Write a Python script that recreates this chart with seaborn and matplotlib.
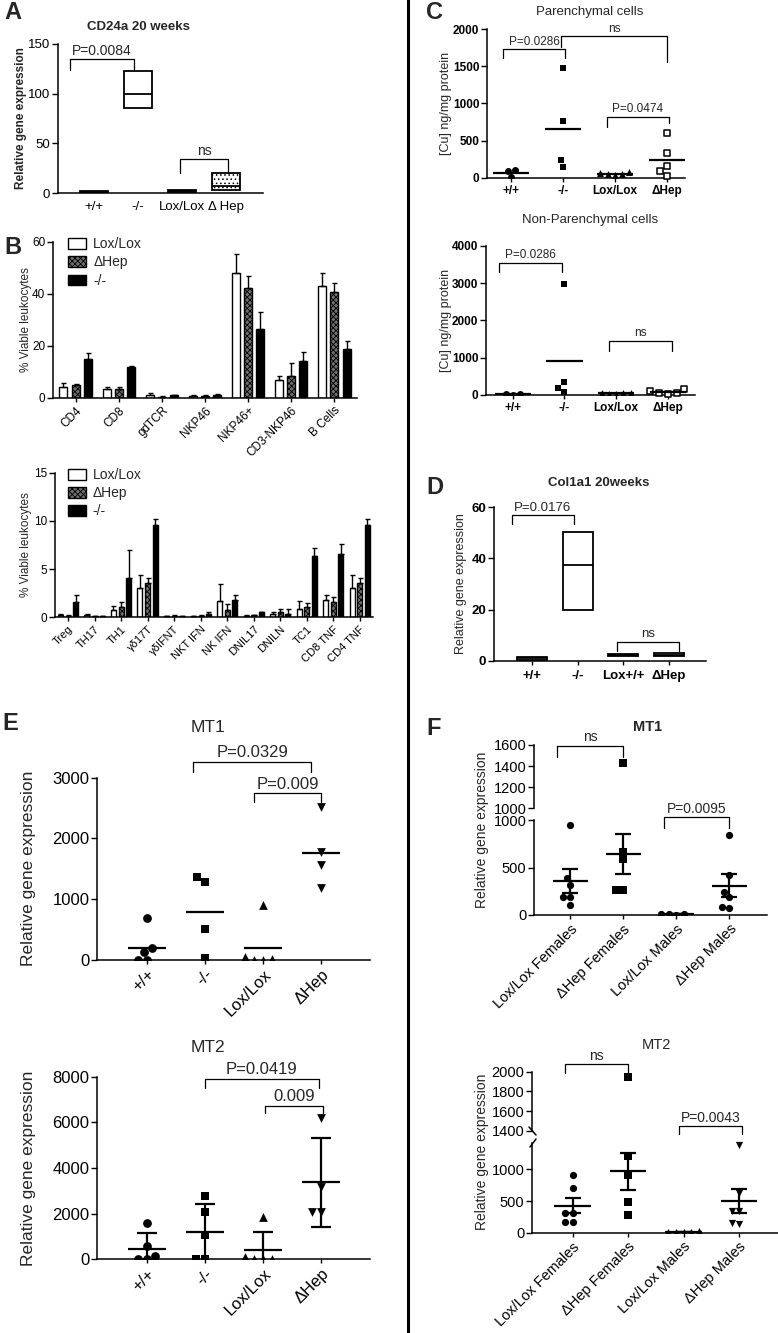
#!/usr/bin/env python3
"""Multi-panel figure: CD24a, leukocyte subsets, hepatic copper, Col1a1 and MT1/MT2 expression."""

import numpy as np
import pandas as pd
import matplotlib.pyplot as plt
import seaborn as sns
from matplotlib.lines import Line2D
from matplotlib.patches import Patch

OUT_PATH = "out.png"
W, H = 778, 1333

# ---------------- data ----------------
# A: CD24a 20 weeks, floating bars (min / median / max)
a_labels = ["+/+", "-/-", "Lox/Lox", "Δ Hep"]
a_low = [0.5, 86, 1.0, 3.0]
a_med = [1.5, 100, 2.0, 7.0]
a_high = [2.5, 123, 3.0, 20.0]

# B: % viable leukocytes (mean, upper error)
b_geno = ["Lox/Lox", "ΔHep", "-/-"]
b1_cells = ["CD4", "CD8", "gdTCR", "NKP46", "NKP46+", "CD3-NKP46", "B Cells"]
b1_lox = [4.0, 3.4, 1.0, 0.8, 48.1, 6.8, 43.2]
b1_lox_err = [1.5, 0.8, 0.9, 0.1, 7.1, 1.6, 4.9]
b1_hep = [4.9, 3.4, 0.4, 0.8, 42.3, 8.4, 40.6]
b1_hep_err = [0.3, 0.8, 0.2, 0.1, 4.7, 5.1, 3.7]
b1_ko = [14.8, 11.7, 0.9, 1.2, 26.5, 14.3, 18.8]
b1_ko_err = [2.4, 0.7, 0.3, 0.2, 6.4, 3.5, 3.1]

b2_cells = ["Treg", "TH17", "TH1", "γδ17T", "γδIFNT", "NKT IFN", "NK IFN",
            "DNIL17", "DNILN", "TC1", "CD8 TNF", "CD4 TNF"]
b2_lox = [0.2, 0.2, 0.75, 3.0, 0.1, 0.1, 1.7, 0.15, 0.3, 0.9, 1.8, 3.0]
b2_lox_err = [0.1, 0.15, 0.45, 1.4, 0.05, 0.05, 1.8, 0.05, 0.3, 0.8, 0.55, 1.4]
b2_hep = [0.15, 0.1, 1.1, 3.6, 0.15, 0.15, 0.8, 0.2, 0.5, 1.1, 1.6, 3.6]
b2_hep_err = [0.1, 0.05, 0.45, 0.5, 0.05, 0.05, 0.6, 0.05, 0.4, 0.4, 0.5, 0.5]
b2_ko = [1.6, 0.1, 4.1, 9.6, 0.1, 0.35, 1.8, 0.5, 0.35, 6.3, 6.6, 9.6]
b2_ko_err = [0.75, 0.05, 2.9, 0.6, 0.05, 0.25, 0.5, 0.1, 0.5, 0.9, 1.0, 0.6]

# C: [Cu] ng/mg protein
c_labels = ["+/+", "-/-", "Lox/Lox", "ΔHep"]
cp_wt = [100, 5, 90]
cp_ko = [1479, 766, 238, 148]
cp_lox = [70, 50, 40, 45, 60]
cp_hep = [605, 328, 161, 94, 27]
cn_wt = [40, 10, 35]
cn_ko = [2976, 357, 179, 89]
cn_lox = [60, 50, 30, 40, 60]
cn_hep = [152, 50, 40, 50, 100]

# D: Col1a1 20 weeks, floating bars
d_labels = ["+/+", "-/-", "Lox+/+", "ΔHep"]
d_low = [0.3, 19.9, 1.8, 1.8]
d_med = [1.0, 37.6, 2.1, 2.4]
d_high = [1.5, 50.4, 2.5, 3.1]

# E: MT1 / MT2 relative expression
e_labels = ["+/+", "-/-", "Lox/Lox", "ΔHep"]
e1_wt = [686, 137, 200, 0, 0]
e1_ko = [1362, 1290, 505, 28]
e1_lox = [906, 12, 0, 0, 55]
e1_hep = [2526, 1785, 1565, 1181]
e2_wt = [1579, 597, 145, 0, 0]
e2_ko = [2776, 2061, 1066, 0, 0]
e2_lox = [1842, 0, 0, 0, 90]
e2_hep = [6184, 3158, 2061, 2061]

# F: MT1 / MT2 by sex
f_labels = ["Lox/Lox Females", "ΔHep Females", "Lox/Lox Males", "ΔHep Males"]
f1_lf = [947, 386, 316, 193, 193, 110]
f1_hf = [1431, 666, 586, 263, 263]
f1_lm = [10, 5, 10, 15]
f1_hm = [842, 421, 245, 193, 87, 73]
f2_lf = [910, 700, 306, 306, 174, 174]
f2_hf = [1950, 1210, 910, 489, 279]
f2_lm = [20, 10, 5, 10, 15]
f2_hm = [1383, 620, 350, 340, 150, 140]

B_COLORS = {"Lox/Lox": "white", "ΔHep": "#6f6f6f", "-/-": "black"}
B_HATCH = {"Lox/Lox": "", "ΔHep": "xxxxxx", "-/-": ""}


def place(fig, left, top, right, bottom):
    """Axes from pixel box (left, top, right, bottom)."""
    return fig.add_axes([left / W, 1 - bottom / H, (right - left) / W, (bottom - top) / H])


def ftext(fig, x, y, s, **kw):
    fig.text(x / W, 1 - y / H, s, **kw)


def finish(ax, xlim, ylim, yticks, fs, xlabels=None, rot=0, xfs=None, bold=False):
    sns.despine(ax=ax)
    ax.set_xlim(*xlim)
    ax.set_ylim(*ylim)
    ax.set_yticks(yticks)
    ax.set_xlabel("")
    ax.set_ylabel("")
    ax.tick_params(axis="y", labelsize=fs, length=4, width=1, pad=1.5)
    ax.tick_params(axis="x", labelsize=xfs or fs, length=3, width=1, pad=2)
    if xlabels is not None:
        if rot:
            ax.set_xticks(range(len(xlabels)), xlabels, rotation=rot, ha="right",
                          rotation_mode="anchor")
        else:
            ax.set_xticks(range(len(xlabels)), xlabels)
    if bold:
        for t in ax.get_xticklabels() + ax.get_yticklabels():
            t.set_fontweight("bold")


def bracket(ax, x1, x2, y, l1, l2, text, fs):
    ax.plot([x1, x1, x2, x2], [l1, y, y, l2], color="black", lw=0.9, clip_on=False)
    ax.annotate(text, xy=((x1 + x2) / 2, y), xytext=(0, 1), textcoords="offset points",
                ha="center", va="bottom", fontsize=fs, annotation_clip=False)


def float_bars(ax, labels, low, med, high, width, hatched=()):
    df = pd.DataFrame({"group": labels, "span": np.subtract(high, low)})
    sns.barplot(data=df, x="group", y="span", bottom=low, color="white", saturation=1,
                edgecolor="black", linewidth=1.3, width=width, errorbar=None, ax=ax)
    pos = np.arange(len(labels))
    ax.hlines(med, pos - width / 2, pos + width / 2, color="black", lw=1.3)
    for i in hatched:
        ax.patches[i].set_hatch("....")


def leuko_bars(ax, cells, series, errs):
    df = pd.DataFrame({"cell": np.tile(cells, 3),
                       "geno": np.repeat(b_geno, len(cells)),
                       "pct": np.concatenate(series)})
    sns.barplot(data=df, x="cell", y="pct", hue="geno", hue_order=b_geno, palette=B_COLORS,
                saturation=1, edgecolor="black", linewidth=1, width=0.86, gap=0.35,
                errorbar=None, legend=False, ax=ax)
    for cont, err, g in zip(ax.containers, errs, b_geno):
        for bar, e in zip(cont, err):
            bar.set_hatch(B_HATCH[g])
            ax.errorbar(bar.get_x() + bar.get_width() / 2, bar.get_height(), yerr=[[0], [e]],
                        color="black", lw=1, capsize=1.8, capthick=1, zorder=1)
    handles = [Patch(facecolor=B_COLORS[g], edgecolor="black", hatch=B_HATCH[g], label=g)
               for g in b_geno]
    return handles


def dots(ax, labels, series, markers, size, hollow=()):
    for i, (lab, vals, m) in enumerate(zip(labels, series, markers)):
        if len(vals) == 0:
            continue
        df = pd.DataFrame({"group": [lab] * len(vals), "value": vals})
        sns.swarmplot(data=df, x="group", y="value", order=labels, marker=m, color="black",
                      size=size, linewidth=0, ax=ax)
        coll = ax.collections[-1]
        coll.set_clip_on(False)
        coll.set_zorder(3)
        if i in hollow:
            coll.set_facecolor("white")
            coll.set_edgecolor("black")
            coll.set_linewidth(1.1)


def means(ax, series, half, err=None, capsize=6):
    for i, vals in enumerate(series):
        v = np.asarray(vals, float)
        m = v.mean()
        ax.hlines(m, i - half, i + half, color="black", lw=1.6, zorder=4)
        if err:
            e = v.std(ddof=1)
            if err == "sem":
                e = e / np.sqrt(len(v))
            ax.errorbar(i, m, yerr=e, color="black", lw=1.6, capsize=capsize,
                        capthick=1.6, zorder=4)


def main() -> None:
    sns.set_theme(style="ticks", rc={"axes.edgecolor": "black", "xtick.color": "black",
                                     "ytick.color": "black", "axes.linewidth": 1.1,
                                     "hatch.linewidth": 0.6})
    plt.rcParams["font.family"] = ["Liberation Sans", "DejaVu Sans"]

    fig = plt.figure(figsize=(W / 100, H / 100), dpi=100)
    fig.patch.set_facecolor("white")

    # divider
    fig.add_artist(Line2D([408 / W, 408 / W], [0, 1], color="black", lw=2.2))

    # panel letters
    for x, y, s in [(4, 1, "A"), (4, 236, "B"), (426, 1, "C"), (426, 476, "D"),
                    (2, 712, "E"), (426, 717, "F")]:
        ftext(fig, x, y, s, fontsize=17, fontweight="bold", va="top", ha="left")

    # ---- A ----
    ax = place(fig, 58, 44, 263, 193)
    float_bars(ax, a_labels, a_low, a_med, a_high, 0.64, hatched=[3])
    finish(ax, (-0.82, 3.84), (0, 150), [0, 50, 100, 150], 9.5, a_labels)
    ax.tick_params(axis="x", length=0, pad=6)
    bracket(ax, -0.55, 0.9, 135, 124, 124, "P=0.0084", 10)
    bracket(ax, 1.95, 3.05, 34, 20.4, 20.4, "ns", 10)
    ftext(fig, 138, 27, "CD24a 20 weeks", fontsize=9.5, fontweight="bold", ha="center", va="center")
    ftext(fig, 21, 118, "Relative gene expression", fontsize=8.5, fontweight="bold",
          rotation=90, ha="center", va="center")

    # ---- B top ----
    ax = place(fig, 53, 242, 357, 397.7)
    handles = leuko_bars(ax, b1_cells, [b1_lox, b1_hep, b1_ko], [b1_lox_err, b1_hep_err, b1_ko_err])
    finish(ax, (-0.53, 6.53), (0, 60), [0, 20, 40, 60], 8.5, b1_cells, rot=45, xfs=8.5)
    ax.legend(handles=handles, loc="upper left", bbox_to_anchor=(0.05, 1.03), frameon=False,
              fontsize=10, handlelength=1.3, handleheight=0.8, handletextpad=0.5,
              labelspacing=0.3, borderaxespad=0, borderpad=0)
    ftext(fig, 26, 320, "% Viable leukocytes", fontsize=8.5, rotation=90, ha="center", va="center")

    # ---- B bottom ----
    ax = place(fig, 55, 472.5, 373, 617.3)
    handles = leuko_bars(ax, b2_cells, [b2_lox, b2_hep, b2_ko], [b2_lox_err, b2_hep_err, b2_ko_err])
    finish(ax, (-0.49, 11.5), (0, 15), [0, 5, 10, 15], 8.5, b2_cells, rot=45, xfs=8)
    ax.legend(handles=handles, loc="upper left", bbox_to_anchor=(0.04, 1.03), frameon=False,
              fontsize=10, handlelength=1.3, handleheight=0.8, handletextpad=0.5,
              labelspacing=0.3, borderaxespad=0, borderpad=0)
    ftext(fig, 26, 545, "% Viable leukocytes", fontsize=8.5, rotation=90, ha="center", va="center")

    # ---- C top ----
    c_markers = ["o", "s", "^", "s"]
    ax = place(fig, 487, 29, 685, 177.7)
    series = [cp_wt, cp_ko, cp_lox, cp_hep]
    dots(ax, c_labels, series, c_markers, 5, hollow=[3])
    means(ax, series, 0.35)
    finish(ax, (-0.46, 3.35), (0, 2000), [0, 500, 1000, 1500, 2000], 8.5, c_labels, bold=True)
    bracket(ax, -0.15, 1.04, 1726, 1605, 1605, "P=0.0286", 8.5)
    bracket(ax, 0.96, 3.01, 1904, 1761, 1559, "ns", 8.5)
    bracket(ax, 1.85, 3.04, 820, 685, 735, "P=0.0474", 8.5)
    ftext(fig, 590, 12, "Parenchymal cells", fontsize=9.5, ha="center", va="center")
    ftext(fig, 446, 103, "[Cu] ng/mg protein", fontsize=9, rotation=90, ha="center", va="center")

    # ---- C bottom ----
    ax = place(fig, 486, 245.7, 695, 395)
    series = [cn_wt, cn_ko, cn_lox, cn_hep]
    dots(ax, c_labels, series, c_markers, 5, hollow=[3])
    means(ax, series, 0.35)
    finish(ax, (-0.52, 3.53), (0, 4000), [0, 1000, 2000, 3000, 4000], 8.5, c_labels, bold=True)
    bracket(ax, -0.26, 0.96, 3546, 3288, 3288, "P=0.0286", 8.5)
    bracket(ax, 1.86, 3.08, 1455, 1187, 1187, "ns", 8.5)
    ftext(fig, 590, 220, "Non-Parenchymal cells", fontsize=9.5, ha="center", va="center")
    ftext(fig, 446, 320, "[Cu] ng/mg protein", fontsize=9, rotation=90, ha="center", va="center")

    # ---- D ----
    ax = place(fig, 494, 507.3, 706, 660.7)
    float_bars(ax, d_labels, d_low, d_med, d_high, 0.66)
    finish(ax, (-0.84, 3.82), (0, 60), [0, 20, 40, 60], 9.5, d_labels, bold=True)
    ax.tick_params(axis="x", length=3, pad=4)
    bracket(ax, -0.45, 0.91, 57.0, 53.5, 53.5, "P=0.0176", 9.5)
    bracket(ax, 1.87, 3.23, 7.4, 3.9, 3.9, "ns", 9.5)
    ftext(fig, 599, 483, "Col1a1 20weeks", fontsize=9.5, fontweight="bold", ha="center", va="center")
    ftext(fig, 461, 584, "Relative gene expression", fontsize=9, rotation=90,
          ha="center", va="center")

    # ---- E MT1 ----
    e_markers = ["o", "s", "^", "v"]
    ax = place(fig, 97, 777.7, 370, 960)
    series = [e1_wt, e1_ko, e1_lox, e1_hep]
    dots(ax, e_labels, series, e_markers, 6.3)
    means(ax, series, 0.33)
    finish(ax, (-0.86, 3.84), (0, 3000), [0, 1000, 2000, 3000], 12, e_labels, rot=45)
    bracket(ax, 0.8, 2.82, 3266, 3101, 3101, "P=0.0329", 12)
    bracket(ax, 1.85, 3.0, 2750, 2607, 2607, "P=0.009", 12)
    ftext(fig, 208, 727, "MT1", fontsize=12.5, ha="center", va="center")
    ftext(fig, 29, 868, "Relative gene expression", fontsize=12.5, rotation=90,
          ha="center", va="center")

    # ---- E MT2 ----
    ax = place(fig, 97, 1076.7, 370, 1259.3)
    series = [e2_wt, e2_ko, e2_lox, e2_hep]
    dots(ax, e_labels, series, e_markers, 6.3)
    means(ax, series, 0.33, err="sd", capsize=7)
    finish(ax, (-0.86, 3.84), (0, 8000), [0, 2000, 4000, 6000, 8000], 12, e_labels, rot=45)
    bracket(ax, 1.0, 2.96, 7908, 7513, 7513, "P=0.0419", 12)
    bracket(ax, 2.03, 3.03, 6724, 6417, 6417, "0.009", 12)
    ftext(fig, 208, 1048, "MT2", fontsize=12.5, ha="center", va="center")
    ftext(fig, 29, 1168, "Relative gene expression", fontsize=12.5, rotation=90,
          ha="center", va="center")

    # ---- F MT1 (broken axis) ----
    split = 1000
    series = [f1_lf, f1_hf, f1_lm, f1_hm]
    f1_markers = ["o", "s", "o", "o"]
    ax_t = place(fig, 534, 745, 767, 808.3)
    ax_b = place(fig, 534, 820, 767, 915)
    dots(ax_t, f_labels, [[v for v in s if v >= split] for s in series], f1_markers, 5.2)
    dots(ax_b, f_labels, [[v for v in s if v < split] for s in series], f1_markers, 5.2)
    means(ax_b, series, 0.33, err="sem", capsize=6)
    finish(ax_t, (-0.68, 3.71), (1000, 1600), [1000, 1200, 1400, 1600], 10.5)
    finish(ax_b, (-0.68, 3.71), (0, 1000), [0, 500, 1000], 10.5, f_labels, rot=45)
    ax_t.spines["bottom"].set_visible(False)
    ax_t.tick_params(axis="x", bottom=False, labelbottom=False)
    bracket(ax_t, -0.24, 0.99, 1593, 1489, 1489, "ns", 10)
    bracket(ax_b, 1.76, 3.0, 1029, 913, 913, "P=0.0095", 10)
    ftext(fig, 648, 727, "MT1", fontsize=10.5, fontweight="bold", ha="center", va="center")
    ftext(fig, 482, 830, "Relative gene expression", fontsize=10, rotation=90,
          ha="center", va="center")

    # ---- F MT2 (broken axis) ----
    split = 1420
    series = [f2_lf, f2_hf, f2_lm, f2_hm]
    f2_markers = ["o", "s", "^", "v"]
    ax_t = place(fig, 532, 1071.7, 778, 1130.7)
    ax_b = place(fig, 532, 1142.7, 778, 1232.7)
    dots(ax_t, f_labels, [[v for v in s if v >= split] for s in series], f2_markers, 5.2)
    dots(ax_b, f_labels, [[v for v in s if v < split] for s in series], f2_markers, 5.2)
    means(ax_b, series, 0.33, err="sem", capsize=6)
    finish(ax_t, (-0.73, 3.7), (1400, 2000), [1400, 1600, 1800, 2000], 10.5)
    finish(ax_b, (-0.73, 3.7), (0, 1420), [0, 500, 1000], 10.5, f_labels, rot=45)
    ax_t.spines["bottom"].set_visible(False)
    ax_t.tick_params(axis="x", bottom=False, labelbottom=False)
    bracket(ax_t, -0.13, 1.0, 2075, 1984, 1984, "ns", 10)
    bracket(ax_t, 1.92, 3.05, 1448, 1363, 1363, "P=0.0043", 10)
    for (x0, y0, x1, y1) in [(529, 1127, 536, 1135), (536, 1139, 530, 1147)]:
        fig.add_artist(Line2D([x0 / W, x1 / W], [1 - y0 / H, 1 - y1 / H], color="black", lw=1.1))
    ftext(fig, 656, 1045, "MT2", fontsize=10.5, ha="center", va="center")
    ftext(fig, 482, 1152, "Relative gene expression", fontsize=10, rotation=90,
          ha="center", va="center")

    fig.savefig(OUT_PATH, dpi=100, facecolor="white")
    plt.close(fig)


if __name__ == "__main__":
    main()
